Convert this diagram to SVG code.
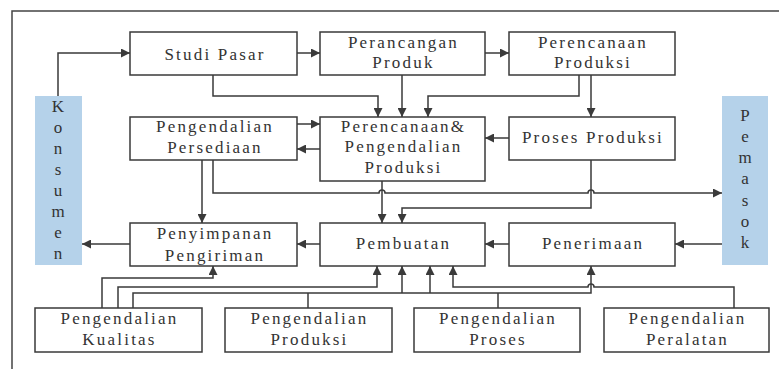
<svg xmlns="http://www.w3.org/2000/svg" width="779" height="369" viewBox="0 0 779 369">
<defs>
<style>
.box{fill:#fff;stroke:#3a3a3a;stroke-width:1.5}
.bar{fill:#b5d2ea;stroke:none}
.t{font-size:17px;fill:#333;text-anchor:middle;letter-spacing:2.2px}
.v{font-size:17px;fill:#333;text-anchor:middle}
.c{fill:none;stroke:#3a3a3a;stroke-width:1.5}
.frame{fill:none;stroke:#444;stroke-width:1.5}
</style>
<marker id="ah" viewBox="0 0 10 10" refX="10" refY="5" markerWidth="9" markerHeight="9" markerUnits="userSpaceOnUse" orient="auto">
<path d="M0,0 L10,5 L0,10 z" fill="#3a3a3a"/>
</marker>
</defs>
<rect width="779" height="369" fill="#fff"/>
<path class="frame" d="M12,369 V11 H779"/>
<g font-family="Liberation Serif, Times New Roman, DejaVu Serif, serif">
<g id="konsumen">
<rect class="bar" x="35" y="96" width="47" height="169"/>
<text class="v" x="58" y="112">K</text>
<text class="v" x="58" y="133">o</text>
<text class="v" x="58" y="154">n</text>
<text class="v" x="58" y="175">s</text>
<text class="v" x="58" y="196">u</text>
<text class="v" x="58" y="217">m</text>
<text class="v" x="58" y="238">e</text>
<text class="v" x="58" y="259">n</text>
</g>
<g id="pemasok">
<rect class="bar" x="722" y="96" width="46" height="169"/>
<text class="v" x="745" y="121">P</text>
<text class="v" x="745" y="142">e</text>
<text class="v" x="745" y="163">m</text>
<text class="v" x="745" y="184">a</text>
<text class="v" x="745" y="206">s</text>
<text class="v" x="745" y="227">o</text>
<text class="v" x="745" y="248">k</text>
</g>

<g id="studi-pasar">
<rect class="box" x="130" y="32" width="167" height="43"/>
<text class="t" x="215" y="60">Studi Pasar</text>
</g>
<g id="perancangan-produk">
<rect class="box" x="320" y="32" width="165" height="43"/>
<text class="t" x="403.5" y="48">Perancangan</text>
<text class="t" x="403.5" y="68">Produk</text>
</g>
<g id="perencanaan-produksi">
<rect class="box" x="509" y="32" width="166" height="43"/>
<text class="t" x="593" y="48">Perencanaan</text>
<text class="t" x="593" y="68">Produksi</text>
</g>
<g id="pengendalian-persediaan">
<rect class="box" x="130" y="117" width="167" height="43"/>
<text class="t" x="215" y="132">Pengendalian</text>
<text class="t" x="215" y="153">Persediaan</text>
</g>
<g id="ppp">
<rect class="box" x="320" y="117" width="165" height="64"/>
<text class="t" x="403.5" y="132">Perencanaan&amp;</text>
<text class="t" x="403.5" y="152">Pengendalian</text>
<text class="t" x="403.5" y="173">Produksi</text>
</g>
<g id="proses-produksi">
<rect class="box" x="509" y="117" width="166" height="43"/>
<text class="t" x="593" y="143">Proses Produksi</text>
</g>
<g id="penyimpanan">
<rect class="box" x="130" y="223" width="167" height="43"/>
<text class="t" x="215" y="239">Penyimpanan</text>
<text class="t" x="215" y="261">Pengiriman</text>
</g>
<g id="pembuatan">
<rect class="box" x="320" y="223" width="165" height="43"/>
<text class="t" x="403.5" y="249">Pembuatan</text>
</g>
<g id="penerimaan">
<rect class="box" x="509" y="223" width="166" height="43"/>
<text class="t" x="593" y="249">Penerimaan</text>
</g>
<g id="pk-kualitas">
<rect class="box" x="35" y="308" width="167" height="44"/>
<text class="t" x="119.5" y="324">Pengendalian</text>
<text class="t" x="119.5" y="345">Kualitas</text>
</g>
<g id="pk-produksi">
<rect class="box" x="225" y="308" width="167" height="44"/>
<text class="t" x="309.5" y="324">Pengendalian</text>
<text class="t" x="309.5" y="345">Produksi</text>
</g>
<g id="pk-proses">
<rect class="box" x="414" y="308" width="166" height="44"/>
<text class="t" x="498" y="324">Pengendalian</text>
<text class="t" x="498" y="345">Proses</text>
</g>
<g id="pk-peralatan">
<rect class="box" x="604" y="308" width="165" height="44"/>
<text class="t" x="687.5" y="324">Pengendalian</text>
<text class="t" x="687.5" y="345">Peralatan</text>
</g>
</g>
<g id="connectors">
<path class="c" marker-end="url(#ah)" d="M58,96 V53 H130"/>
<path class="c" marker-end="url(#ah)" d="M297,53 H320"/>
<path class="c" marker-end="url(#ah)" d="M485,53 H509"/>
<path class="c" marker-end="url(#ah)" d="M213,75 V96 H378 V117"/>
<path class="c" marker-end="url(#ah)" d="M402,75 V117"/>
<path class="c" marker-end="url(#ah)" d="M579,75 V96 H428 V117"/>
<path class="c" marker-end="url(#ah)" d="M591,75 V117"/>
<path class="c" marker-end="url(#ah)" d="M297,124 H320"/>
<path class="c" marker-end="url(#ah)" d="M320,149 H297"/>
<path class="c" marker-end="url(#ah)" d="M509,138 H485"/>
<path class="c" marker-end="url(#ah)" d="M202,160 V223"/>
<path class="c" marker-end="url(#ah)" d="M213,160 V193 H379 A3,3 0 0 1 385,193 H588 A3,3 0 0 1 594,193 H722"/>
<path class="c" marker-end="url(#ah)" d="M382,181 V223"/>
<path class="c" marker-end="url(#ah)" d="M591,160 V208 H402 V223"/>
<path class="c" marker-end="url(#ah)" d="M320,244 H297"/>
<path class="c" marker-end="url(#ah)" d="M130,244 H82"/>
<path class="c" marker-end="url(#ah)" d="M509,244 H485"/>
<path class="c" marker-end="url(#ah)" d="M722,244 H675"/>
<path class="c" marker-end="url(#ah)" d="M102,308 V278 H213 V266"/>
<path class="c" marker-end="url(#ah)" d="M118,308 V287 H377 V266"/>
<path class="c" marker-end="url(#ah)" d="M133,308 V293 H591 V266"/>
<path class="c" d="M308,308 V293"/>
<path class="c" d="M498,308 V293"/>
<path class="c" marker-end="url(#ah)" d="M402,293 V266"/>
<path class="c" marker-end="url(#ah)" d="M430,293 V266"/>
<path class="c" marker-end="url(#ah)" d="M734,308 V287 H594 A3,3 0 0 0 588,287 H453 V266"/>
</g>
</svg>
